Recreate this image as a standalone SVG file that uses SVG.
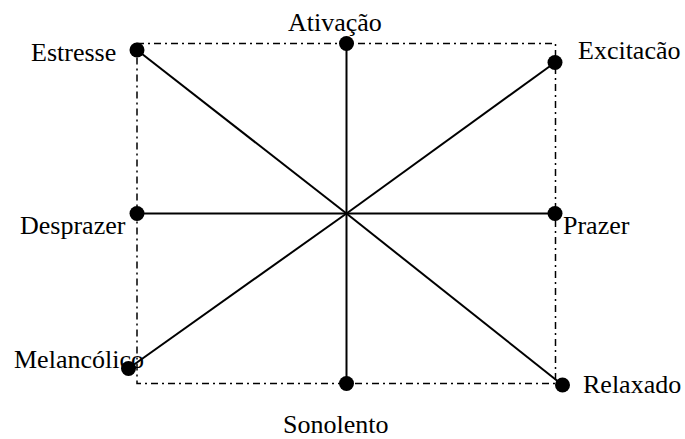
<svg xmlns="http://www.w3.org/2000/svg" width="685" height="439" viewBox="0 0 685 439">
<style>
.frame{fill:none;stroke:#000;stroke-width:1.5;stroke-dasharray:7 4 2 4}
.ax{stroke:#000;stroke-width:2;fill:none}
.dot{fill:#000}
text{font-family:"Liberation Serif","Times New Roman",serif;font-size:26px;fill:#000}
</style>
<rect width="685" height="439" fill="#fff"/>
<g id="frame"><rect class="frame" x="137" y="43.5" width="418.5" height="340"/></g>
<g id="connectors">
<line class="ax" x1="137" y1="50" x2="346.5" y2="213.5"/>
<line class="ax" x1="346.5" y1="43.5" x2="346.5" y2="213.5"/>
<line class="ax" x1="555" y1="62.5" x2="346.5" y2="213.5"/>
<line class="ax" x1="137" y1="213.5" x2="346.5" y2="213.5"/>
<line class="ax" x1="555" y1="213.5" x2="346.5" y2="213.5"/>
<line class="ax" x1="128.5" y1="368.5" x2="346.5" y2="213.5"/>
<line class="ax" x1="346.5" y1="383.5" x2="346.5" y2="213.5"/>
<line class="ax" x1="562.5" y1="385" x2="346.5" y2="213.5"/>
</g>
<g id="estresse"><circle class="dot" cx="137" cy="50" r="7.5"/><text x="31" y="61">Estresse</text></g>
<g id="ativacao"><circle class="dot" cx="346.5" cy="43.5" r="7.5"/><text x="288" y="31">Ativação</text></g>
<g id="excitacao"><circle class="dot" cx="555" cy="62.5" r="7.5"/><text x="578" y="59">Excitacão</text></g>
<g id="desprazer"><circle class="dot" cx="137" cy="213.5" r="7.5"/><text x="20" y="234">Desprazer</text></g>
<g id="prazer"><circle class="dot" cx="555" cy="213.5" r="7.5"/><text x="563" y="234">Prazer</text></g>
<g id="melancolico"><circle class="dot" cx="128.5" cy="368.5" r="7.5"/><text x="14" y="367.5">Melancólico</text></g>
<g id="sonolento"><circle class="dot" cx="346.5" cy="383.5" r="7.5"/><text x="283" y="433">Sonolento</text></g>
<g id="relaxado"><circle class="dot" cx="562.5" cy="385" r="7.5"/><text x="583" y="393">Relaxado</text></g>
</svg>
